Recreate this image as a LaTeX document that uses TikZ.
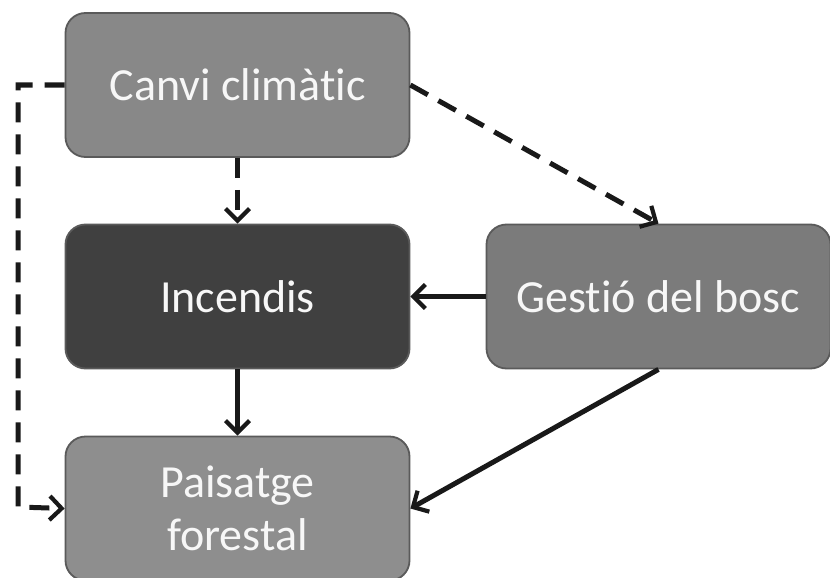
\documentclass[tikz,border=0pt]{standalone}
\usepackage{fontspec}
\setmainfont{Carlito}[Ligatures=NoCommon]
\usetikzlibrary{arrows.meta}
\definecolor{boxA}{HTML}{888888}
\definecolor{boxB}{HTML}{7B7B7B}
\definecolor{boxC}{HTML}{8E8E8E}
\definecolor{boxD}{HTML}{404040}
\definecolor{edge}{HTML}{5A5A5A}
\definecolor{txt}{HTML}{F7F7F7}
\begin{document}
\begin{tikzpicture}[x=1pt,y=-1pt,
  box/.style={draw=edge, line width=1.8pt, rounded corners=20pt, minimum width=344pt, minimum height=144pt, inner sep=0pt, text=txt, font=\fontsize{46}{57}\selectfont, align=center},
  conn/.style={line width=5pt, draw=black!90, -{Straight Barb[length=12pt,width=24pt,line width=4.2pt]}},
  dconn/.style={conn, dash pattern=on 20pt off 12pt}
]
\useasboundingbox[fill=white] (0,0) rectangle (830,578);
\node[box, fill=boxA] (cc) at (237.5,85) {Canvi climàtic};
\node[box, fill=boxD] (inc) at (237.5,296.5) {Incendis};
\node[box, fill=boxB] (gb) at (658.5,296.5) {Gestió del bosc};
\node[box, fill=boxC] (pf) at (237.5,508.5) {Paisatge\\[-4pt]forestal};
\coordinate (c1) at (18,85);
\coordinate (c2) at (18,507);
\draw[dconn] (cc.west) -- (c1) -- (c2) -- (pf.west);
\draw[dconn] (cc.south) -- (inc.north);
\draw[dconn] (cc.east) -- (gb.north);
\draw[conn] (gb.west) -- (inc.east);
\draw[conn] (inc.south) -- (pf.north);
\draw[conn] (gb.south) -- (pf.east);
\end{tikzpicture}
\end{document}
